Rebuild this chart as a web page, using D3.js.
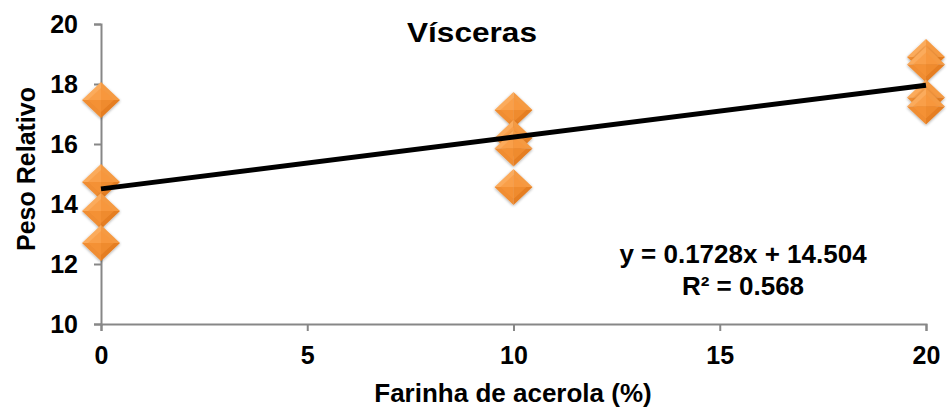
<!DOCTYPE html>
<html>
<head>
<meta charset="utf-8">
<script src="https://cdn.jsdelivr.net/npm/d3@7"></script>
<style>
  body { margin: 0; background: #fff; }
  text { font-family: "Liberation Sans", Arial, sans-serif; font-weight: bold; fill: #000; }
</style>
</head>
<body>
<svg id="chart"></svg>
<script>
let W = 948, H = 407

// data
let farinha = [0, 0, 0, 0, 10, 10, 10, 10, 20, 20, 20, 20]
let peso = [17.47, 14.73, 13.77, 12.7, 17.13, 16.2, 15.85, 14.57, 18.9, 18.65, 17.55, 17.25]
let xTicks = [0, 5, 10, 15, 20]
let yTicks = [10, 12, 14, 16, 18, 20]
let slope = 0.1728, intercept = 14.504
let eqLines = ['y = 0.1728x + 14.504', 'R² = 0.568']

let svg = d3.select('#chart').attr('width', W).attr('height', H)

let x = d3.scaleLinear().domain([0, 20]).range([101, 926])
let y = d3.scaleLinear().domain([10, 20]).range([324, 24])

let defs = svg.append('defs')
let f = defs.append('filter').attr('id', 'soft').attr('x', '-30%').attr('y', '-30%').attr('width', '160%').attr('height', '160%')
f.append('feGaussianBlur').attr('in', 'SourceAlpha').attr('stdDeviation', 1.5)
f.append('feOffset').attr('dx', 0).attr('dy', 1).attr('result', 'b')
f.append('feComponentTransfer').append('feFuncA').attr('type', 'linear').attr('slope', 0.35)
let m = f.append('feMerge')
m.append('feMergeNode')
m.append('feMergeNode').attr('in', 'SourceGraphic')

// axes
let axisColor = '#878787'
let gx = svg.append('g').attr('transform', `translate(0,${y(10)})`)
  .call(d3.axisBottom(x).tickValues(xTicks).tickSize(7).tickPadding(12))
let gy = svg.append('g').attr('transform', `translate(${x(0)},0)`)
  .call(d3.axisLeft(y).tickValues(yTicks).tickSize(7).tickPadding(16))
;[gx, gy].forEach(g => {
  g.select('.domain').attr('stroke', axisColor).attr('stroke-width', 2)
  g.selectAll('.tick line').attr('stroke', axisColor).attr('stroke-width', 2)
  g.selectAll('.tick text').attr('font-size', 25).attr('font-family', null).attr('fill', '#000')
})
gx.selectAll('.tick text').attr('dy', '0.82em')

// markers
let hw = 19, hh = 18
let facets = [
  { pts: [[0, -hh], [-hw, 0], [0, 0]], c: '#fbab5c' },
  { pts: [[0, -hh], [hw, 0], [0, 0]], c: '#f59a43' },
  { pts: [[-hw, 0], [0, hh], [0, 0]], c: '#f08d32' },
  { pts: [[hw, 0], [0, hh], [0, 0]], c: '#e57e22' },
]
let pts = svg.append('g').selectAll('g.pt')
  .data(farinha.map((d, i) => ({ x: d, y: peso[i] })))
  .enter().append('g')
  .attr('class', 'pt')
  .attr('transform', d => `translate(${x(d.x)},${y(d.y)})`)
  .attr('filter', 'url(#soft)')
facets.forEach(fc => {
  pts.append('path').attr('d', 'M' + fc.pts.map(p => p.join(',')).join('L') + 'Z').attr('fill', fc.c)
})
pts.append('path')
  .attr('d', `M0,${-hh + 6}L${hw - 6},0L0,${hh - 6}L${-hw + 6},0Z`)
  .attr('fill', '#f7953a').attr('opacity', 0.55)

// trend line
svg.append('line')
  .attr('x1', x(0)).attr('y1', y(intercept))
  .attr('x2', x(20)).attr('y2', y(intercept + slope * 20))
  .attr('stroke', '#000').attr('stroke-width', 5)

// texts
svg.append('text').attr('x', 472).attr('y', 42).attr('text-anchor', 'middle')
  .attr('font-size', 28).attr('textLength', 130).attr('lengthAdjust', 'spacingAndGlyphs')
  .text('Vísceras')

svg.append('text').attr('x', 513).attr('y', 402).attr('text-anchor', 'middle')
  .attr('font-size', 26).text('Farinha de acerola (%)')

svg.append('text').attr('transform', 'translate(35,169) rotate(-90)').attr('text-anchor', 'middle')
  .attr('font-size', 25).text('Peso Relativo')

svg.append('g').selectAll('text').data(eqLines).enter().append('text')
  .attr('x', 743).attr('y', (d, i) => 263 + i * 32).attr('text-anchor', 'middle')
  .attr('font-size', 26).text(d => d)
</script>
</body>
</html>
